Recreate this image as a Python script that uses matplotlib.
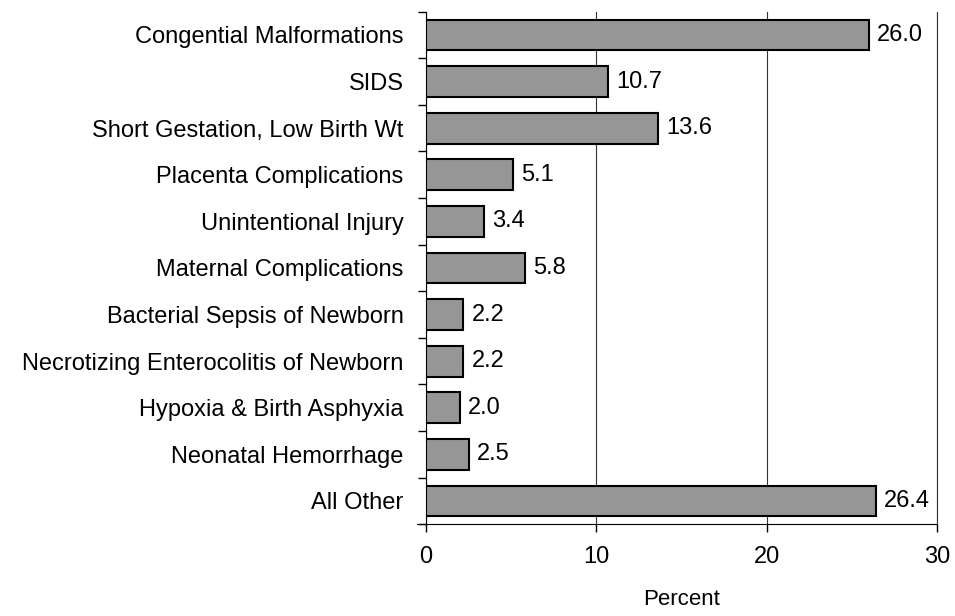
import matplotlib.pyplot as plt
import numpy as np

plt.rcParams['font.family'] = ['Liberation Sans', 'DejaVu Sans']

causes = ["Congential Malformations", "SIDS", "Short Gestation, Low Birth Wt",
          "Placenta Complications", "Unintentional Injury", "Maternal Complications",
          "Bacterial Sepsis of Newborn", "Necrotizing Enterocolitis of Newborn",
          "Hypoxia & Birth Asphyxia", "Neonatal Hemorrhage", "All Other"]
percent = [26.0, 10.7, 13.6, 5.1, 3.4, 5.8, 2.2, 2.2, 2.0, 2.5, 26.4]

fig = plt.figure(figsize=(9.55, 6.16), dpi=100)
ax = fig.add_axes([0.446, 0.149, 0.535, 0.832])

y = np.arange(len(causes))
ax.barh(y, percent, height=0.66, color="#969696", edgecolor="black", linewidth=1.5, zorder=3)

for yi, v in zip(y, percent):
    ax.annotate(f"{v:.1f}", (v, yi), xytext=(6, 0), textcoords="offset points",
                va="center", ha="left", fontsize=17)

ax.set_xlim(0, 30)
ax.set_ylim(len(causes) - 0.5, -0.5)
ax.set_xticks([0, 10, 20, 30])
ax.tick_params(axis="x", labelsize=17, length=6, direction="out", pad=10, width=1)
ax.xaxis.grid(True, color="#333333", linewidth=0.8, zorder=0)
ax.axvline(30, color="#333333", linewidth=0.8, zorder=0, clip_on=False)

# labels centered on bars, ticks between categories
ax.set_yticks(y)
ax.set_yticklabels(causes, fontsize=17)
ax.tick_params(axis="y", length=0, pad=16)
ax.set_yticks(np.arange(len(causes) + 1) - 0.5, minor=True)
ax.tick_params(axis="y", which="minor", length=6, width=1)

ax.spines["top"].set_visible(False)
ax.spines["right"].set_visible(False)
ax.spines["bottom"].set_bounds(-0.5, 30)

ax.set_xlabel("Percent", fontsize=16, labelpad=15)

fig.savefig("out.png", dpi=100)
